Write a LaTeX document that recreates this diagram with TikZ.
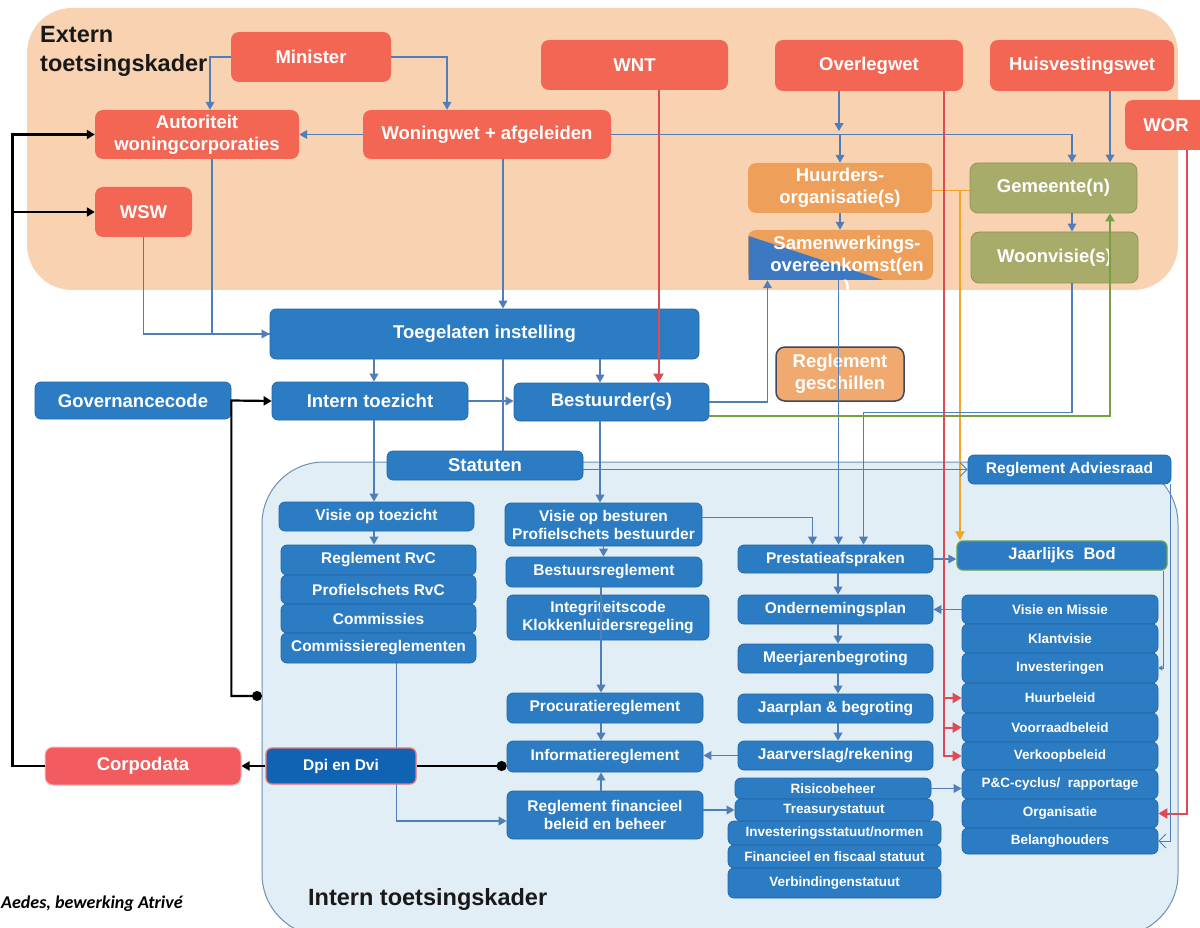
\documentclass[tikz,border=0pt]{standalone}
\usepackage{fontspec}
\setmainfont{Liberation Sans}
\newfontfamily\carl{Carlito}
\usetikzlibrary{arrows.meta,calc}
\pgfdeclarelayer{back}
\pgfdeclarelayer{mid}
\pgfsetlayers{back,mid,main}

\definecolor{peach}{HTML}{F9D3B1}
\definecolor{cred}{HTML}{F26653}
\definecolor{corpred}{HTML}{F25C5E}
\definecolor{cblue}{HTML}{2C7CC3}
\definecolor{cbluedk}{HTML}{1F66AA}
\definecolor{dpiblue}{HTML}{0F63B2}
\definecolor{corange}{HTML}{EE9F5A}
\definecolor{rgfill}{HTML}{F0A96F}
\definecolor{rgdraw}{HTML}{3E4859}
\definecolor{olive}{HTML}{A8AC6A}
\definecolor{olivedk}{HTML}{8E9352}
\definecolor{innerbg}{HTML}{E1EEF6}
\definecolor{innerln}{HTML}{7090B2}
\definecolor{lineblue}{HTML}{4F7EB9}
\definecolor{linered}{HTML}{DD4B57}
\definecolor{linegreen}{HTML}{77A043}
\definecolor{lineorange}{HTML}{F5A526}
\definecolor{bodgreen}{HTML}{6A9F52}
\definecolor{triblue}{HTML}{3D79C2}

\newcommand\BX[7]{\node[#1, minimum width={(#5)-(#3)}, minimum height={(#6)-(#4)}] (#2) at ({((#3)+(#5))/2},{((#4)+(#6))/2}) {#7};}

\tikzset{
  bx/.style={rectangle, rounded corners=6pt, inner sep=1pt, align=center, text=white},
  fL/.style={font=\bfseries\fontsize{18.5}{22}\selectfont},
  fM/.style={font=\bfseries\fontsize{15.5}{18}\selectfont},
  fS/.style={font=\bfseries\fontsize{13.5}{16}\selectfont},
  redbox/.style={bx, fL, fill=cred, rounded corners=8pt},
  orbox/.style={bx, fL, fill=corange, rounded corners=8pt},
  olbox/.style={bx, fL, fill=olive, draw=olivedk, line width=0.8pt, rounded corners=8pt},
  blbox/.style={bx, fill=cblue, draw=cbluedk, line width=0.7pt},
  bl/.style={draw=lineblue, line width=1.8pt},
  bla/.style={bl, -{Triangle[length=8pt,width=8.5pt]}},
  rd/.style={draw=linered, line width=2pt},
  rda/.style={rd, -{Triangle[length=9pt,width=10pt]}},
  blk/.style={draw=black, line width=2.2pt},
  blka/.style={blk, -{Triangle[length=8pt,width=9pt]}},
  gra/.style={draw=linegreen, line width=1.8pt, -{Triangle[length=8pt,width=9pt]}},
  orl/.style={draw=lineorange, line width=1pt},
  orla/.style={draw=lineorange, line width=1.8pt, -{Triangle[length=9pt,width=9pt]}},
  thinln/.style={draw=lineblue, line width=0.9pt},
}

\begin{document}
\begin{tikzpicture}[x=1pt,y=-1pt]
\useasboundingbox (0,0) rectangle (1200,928);

\begin{pgfonlayer}{back}
\fill[peach, rounded corners=45pt] (27,8) rectangle (1178,290);
\draw[innerln, fill=innerbg, rounded corners=62pt, line width=1pt] (262,462) rectangle (1178,936);
\end{pgfonlayer}

% texts
\node[font=\bfseries\fontsize{23.5}{29}\selectfont, align=left, anchor=north west, inner sep=0pt, text=black!90] (ext) at (40,26) {Extern\\toetsingskader};
\node[font=\bfseries\fontsize{23.5}{28}\selectfont, anchor=base west, inner sep=0pt, text=black!90] (intk) at (308,905) {Intern toetsingskader};
\node[font=\carl\bfseries\itshape\fontsize{18}{20}\selectfont, anchor=base west, inner sep=0pt] (aedes) at (1,908) {Aedes, bewerking Atrivé};

% top red boxes
\BX{redbox}{min}{231}{32}{391}{82}{Minister}
\BX{redbox}{wnt}{541}{40}{728}{90}{WNT}
\BX{redbox}{ovl}{775}{40}{963}{91}{Overlegwet}
\BX{redbox}{hvw}{990}{40}{1174}{91}{Huisvestingswet}
\BX{redbox}{wor}{1125}{100}{1207}{150}{WOR}
\BX{redbox}{aut}{95}{110}{299}{159}{Autoriteit\\woningcorporaties}
\BX{redbox}{ww}{363}{110}{611}{159}{Woningwet + afgeleiden}
\BX{redbox}{wsw}{95}{187}{192}{237}{WSW}

\BX{orbox}{huur}{748}{163}{932}{213}{Huurders-\\organisatie(s)}
\BX{orbox}{samen}{748}{230}{933}{280}{}
\fill[triblue] (748.5,236) -- (748.5,280) -- (883,280) -- cycle;
\node[fL, text=white, align=center, inner sep=0pt, anchor=north] (samentxt) at (847,235.5) {Samenwerkings-\\overeenkomst(en\\)};
\BX{olbox}{gem}{970}{163}{1137}{213}{Gemeente(n)}
\BX{olbox}{woon}{971}{232}{1138}{283}{Woonvisie(s)}
\BX{bx, fL, fill=rgfill, draw=rgdraw, line width=1.5pt, rounded corners=9pt}{rgesch}{776}{347}{904}{401}{Reglement\\geschillen}

% blue large
\BX{blbox, fL}{toeg}{270}{309}{699}{359}{Toegelaten instelling}
\BX{blbox, fL}{gov}{35}{382}{231}{419}{Governancecode}
\BX{blbox, fL}{itz}{272}{382}{468}{420}{Intern toezicht}
\BX{blbox, fL}{bst}{514}{383}{709}{421}{Bestuurder(s)}
\BX{blbox, fL}{stat}{387}{451}{583}{480}{Statuten}
\BX{blbox, fM}{ra}{968}{455}{1171}{484}{Reglement Adviesraad}

% left column
\BX{blbox, fM}{vtz}{279}{502}{474}{531}{Visie op toezicht}
\BX{blbox, fM}{rrvc}{281}{545}{476}{575}{Reglement RvC}
\BX{blbox, fM}{prvc}{281}{575}{476}{604}{Profielschets RvC}
\BX{blbox, fM}{comm}{281}{604}{476}{633}{Commissies}
\BX{blbox, fM}{commr}{281}{633}{476}{663}{Commissiereglementen}

% middle column
\BX{blbox, fM}{vbst}{505}{503}{702}{546}{Visie op besturen\\Profielschets bestuurder}
\BX{blbox, fM}{bestr}{506}{557}{702}{587}{Bestuursreglement}
\BX{blbox, fM}{integr}{507}{595}{709}{640}{Integriteitscode\\Klokkenluidersregeling}
\BX{blbox, fM}{proc}{507}{693}{703}{723}{Procuratiereglement}
\BX{blbox, fM}{info}{507}{741}{703}{772}{Informatiereglement}
\BX{blbox, fM}{rfin}{507}{791}{703}{839}{Reglement financieel\\beleid en beheer}

% prestatie column
\BX{blbox, fM}{pres}{738}{545}{933}{573}{Prestatieafspraken}
\BX{blbox, draw=bodgreen, line width=1.3pt, font=\bfseries\fontsize{16.5}{19}\selectfont}{bod}{957}{541}{1167}{570}{Jaarlijks\ \ Bod}
\BX{blbox, fM}{ond}{738}{595}{933}{624}{Ondernemingsplan}
\BX{blbox, fM}{meer}{738}{644}{933}{673}{Meerjarenbegroting}
\BX{blbox, fM}{jpl}{738}{694}{933}{723}{Jaarplan \& begroting}
\BX{blbox, fM}{jvs}{738}{741}{933}{770}{Jaarverslag/rekening}
\BX{blbox, fS}{risico}{735}{778}{931}{799}{Risicobeheer}
\BX{blbox, fS}{treas}{735}{799}{933}{821}{Treasurystatuut}
\BX{blbox, fS}{invs}{728}{821}{941}{845}{Investeringsstatuut/normen}
\BX{blbox, fS}{fin}{728}{845}{941}{868}{Financieel en fiscaal statuut}
\BX{blbox, fS}{verb}{728}{868}{941}{898}{Verbindingenstatuut}

% right column
\BX{blbox, fS}{vm}{962}{595}{1158}{624}{Visie en Missie}
\BX{blbox, fS}{klant}{962}{624}{1158}{653}{Klantvisie}
\BX{blbox, fS}{inv}{962}{653}{1158}{683}{Investeringen}
\BX{blbox, fS}{huurb}{962}{683}{1158}{713}{Huurbeleid}
\BX{blbox, fS}{voorr}{962}{713}{1158}{742}{Voorraadbeleid}
\BX{blbox, fS}{verk}{962}{742}{1158}{770}{Verkoopbeleid}
\BX{blbox, fS}{pc}{962}{770}{1158}{799}{P\&C-cyclus/\ \ rapportage}
\BX{blbox, fS}{org}{962}{799}{1158}{828}{Organisatie}
\BX{blbox, fS}{belang}{962}{828}{1158}{854}{Belanghouders}

% corpodata / dpi
\BX{redbox, fill=corpred, draw=corpred!45!white, line width=1pt}{corp}{45}{747}{241}{785}{Corpodata}
\BX{blbox, fM, fill=dpiblue, draw=corpred!85!white, line width=1.3pt}{dpi}{266}{748}{416}{784}{Dpi en Dvi}

% connectors under boxes
\begin{pgfonlayer}{mid}
\draw[bla] ([xshift=18pt]commr.south) |- ([yshift=-6pt]rfin.west);
\draw[orl] ([yshift=-3pt]huur.east) -- ([yshift=-3pt]gem.west);
\end{pgfonlayer}

% top connectors
\draw[bla] (min.west) -| ([xshift=13pt]aut.north);
\draw[bla] (min.east) -| ([xshift=-40pt]ww.north);
\draw[bla] (ww.west) -- (aut.east);
\draw[bla] (ww.east) -| ([xshift=18.5pt]gem.north);
\draw[bla] ([xshift=-30pt]ovl.south) -- ++(0,40);
\draw[bla] (huur.north |- ww.east) -- (huur.north);
\draw[bla] ([xshift=28pt]hvw.south) -- ([xshift=56.5pt]gem.north);
\draw[bla] ([xshift=18.5pt]gem.south) -- ([xshift=17.5pt]woon.north);
\draw[bla] (huur.south) -- ([xshift=-0.5pt]samen.north);
\coordinate (oj) at (960,191);
\draw[orla] (oj) -- ([xshift=-102pt]bod.north);

\draw[bla] ([xshift=16pt]ww.south) -- ([xshift=18.5pt]toeg.north);
\draw[bl] ([xshift=15pt]aut.south) |- (toeg.west);
\draw[bla] (wsw.south) |- (toeg.west);
\draw[bla] ([xshift=-110.5pt]toeg.south) -- ([xshift=4pt]itz.north);
\draw[bla] ([xshift=115.5pt]toeg.south) -- ([xshift=-11.5pt]bst.north);
\draw[bl] ([xshift=18.5pt]toeg.south) -- ([xshift=18pt]stat.north);
\draw[bla] (itz.east) -- (itz.east -| bst.west);

% black connectors
\coordinate (gdot) at (262,696);
\draw[blk, {Circle[length=10pt]}-{Triangle[length=8pt,width=9pt]}] (gdot) -| (gov.east) -- (itz.west);
\draw[blka] (corp.west) -- ++(-32,0) |- (aut.west);
\draw[blka] ([xshift=-82pt]wsw.west) -- (wsw.west);
\draw[blka] (dpi.west) -- (corp.east);
\draw[blk, {Circle[length=10pt]}-] (info.west |- dpi.east) -- (dpi.east);

% internal
\draw[bla] ([xshift=4pt]itz.south) -- ([xshift=-2.5pt]vtz.north);
\draw[bla] ([xshift=-2.5pt]vtz.south) -- ([xshift=-4.5pt]rrvc.north);
\draw[bla] ([xshift=-11.5pt]bst.south) -- ([xshift=-3.5pt]vbst.north);
\draw[bla] (vbst.south) -- ([xshift=-0.5pt]bestr.north);
\draw[bla] ([xshift=-3pt]bestr.south) -- ([xshift=-4pt]proc.north);
\draw[bla] ([xshift=-4pt]proc.south) -- ([xshift=-4pt]info.north);
\draw[bla] ([xshift=-4pt]rfin.north) -- ([xshift=-4pt]info.south);
\draw[bla] (jvs.west) -- (jvs.west -| info.east);
\draw[bla] (rfin.east |- treas.west) -- (treas.west);
\draw[bla] ([xshift=2.5pt]pres.south) -- ([xshift=2.5pt]ond.north);
\draw[bla] ([xshift=2.5pt]ond.south) -- ([xshift=2.5pt]meer.north);
\draw[bla] ([xshift=2.5pt]meer.south) -- ([xshift=2.5pt]jpl.north);
\draw[bla] ([xshift=2.5pt]jpl.south) -- ([xshift=2.5pt]jvs.north);
\draw[bla] (pres.east) -- (pres.east -| bod.west);
\draw[bla] (vm.west) -- (vm.west -| ond.east);
\draw[bla] (risico.east) -- (risico.east -| pc.west);
\draw[bla] ([xshift=-2pt]samen.south) -- ([xshift=3pt]pres.north);
\draw[bla] ([yshift=7pt]vbst.east) -| ([xshift=-23pt]pres.north);
\draw[bla] ([xshift=17.5pt]woon.south) -- ++(0,129) -| ([xshift=28pt]pres.north);
\draw[bla] (bst.east) -| ([xshift=-73pt]samen.south);
\draw[gra] ([yshift=-14pt]bst.east) -| ([xshift=56.5pt]gem.south);

% red connectors
\draw[rda] ([xshift=24pt]wnt.south) -- ([xshift=47pt]bst.north);
\draw[rda] ([xshift=75pt]ovl.south) |- (verk.west);
\draw[rda] ([xshift=-18pt]huurb.west) -- (huurb.west);
\draw[rda] ([xshift=-18pt]voorr.west) -- (voorr.west);
\draw[rda] ([xshift=21pt]wor.south) |- (org.east);

% thin connectors
\draw[thinln, -{Straight Barb[length=7pt,width=14pt]}] (stat.east |- ra.west) -- (ra.west);
\draw[thinln, -{Straight Barb[length=7pt,width=14pt]}] ([xshift=-1pt]ra.south east) |- (belang.east);
\draw[thinln, -{Triangle[length=4pt,width=5pt]}] ([xshift=-4pt]bod.south east) |- (inv.east);
\end{tikzpicture}
\end{document}
